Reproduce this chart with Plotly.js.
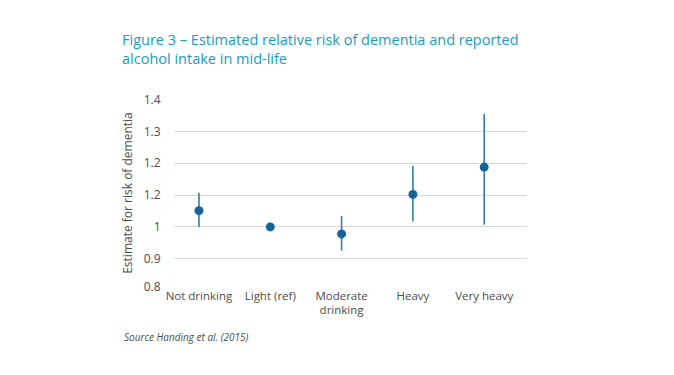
<!DOCTYPE html>
<html><head><meta charset="utf-8">
<script src="https://cdn.plot.ly/plotly-3.0.1.min.js"></script>
<style>html,body{margin:0;padding:0;background:#fff}#chart{width:674px;height:375px}</style>
</head><body><div id="chart"></div>
<script>
const categories = ['Not drinking', 'Light (ref)', 'Moderate<br>drinking', 'Heavy', 'Very heavy'];
const estimates = [1.051, 1.0, 0.978, 1.102, 1.188];
const upper = [1.107, 1.0, 1.034, 1.192, 1.355];
const lower = [1.0, 1.0, 0.925, 1.018, 1.007];
const tickVals = [0.8125, 0.9, 1.0, 1.1, 1.2, 1.3, 1.4];
const tickText = ['0.8', '0.9', '1', '1.2', '1.2', '1.3', '1.4'];

const errPlus = upper.map((u, i) => u - estimates[i]);
const errMinus = estimates.map((e, i) => e - lower[i]);

const trace = {
  type: 'scatter', mode: 'markers',
  x: categories, y: estimates,
  marker: {color: '#16639a', size: 9},
  error_y: {type: 'data', symmetric: false, array: errPlus, arrayminus: errMinus,
            color: '#2f7db4', thickness: 1.6, width: 0},
  hoverinfo: 'x+y'
};
const font = "'Open Sans', 'Noto Sans', sans-serif";
const layout = {
  width: 674, height: 375,
  margin: {l: 174, r: 147, t: 99, b: 88},
  paper_bgcolor: '#fff', plot_bgcolor: '#fff',
  showlegend: false,
  font: {family: font, size: 12, color: '#4d4d4d'},
  xaxis: {type: 'category', range: [-0.35, 4.6], showgrid: false, zeroline: false,
          showline: false, ticks: '', tickfont: {size: 11.5, color: '#4d4d4d'}},
  yaxis: {range: [0.811, 1.402], tickvals: tickVals, ticktext: tickText,
          showgrid: true, gridcolor: '#d9d9d9', gridwidth: 1, zeroline: false,
          showline: false, ticks: 'outside', ticklen: 10, tickcolor: 'rgba(0,0,0,0)',
          tickfont: {size: 12, color: '#4d4d4d'},
          title: {text: 'Estimate for risk of dementia', font: {size: 12, color: '#4d4d4d'}, standoff: 8}},
  title: {text: 'Figure 3 – Estimated relative risk of dementia and reported<br>alcohol intake in mid-life',
          x: 122 / 674, xref: 'container', xanchor: 'left',
          y: 1 - 45 / 375, yref: 'container', yanchor: 'top',
          font: {family: font, size: 14.5, color: '#1a9bc6'}},
  annotations: [{text: '<i>Source Handing et al. (2015)</i>', xref: 'paper', yref: 'paper',
                 x: (122 - 174) / 352.7, xanchor: 'left', y: (287 - 337) / 188, yanchor: 'middle',
                 showarrow: false, font: {size: 10, color: '#4d4d4d'}}]
};
Plotly.newPlot('chart', [trace], layout, {displayModeBar: false, staticPlot: true});
</script></body></html>
